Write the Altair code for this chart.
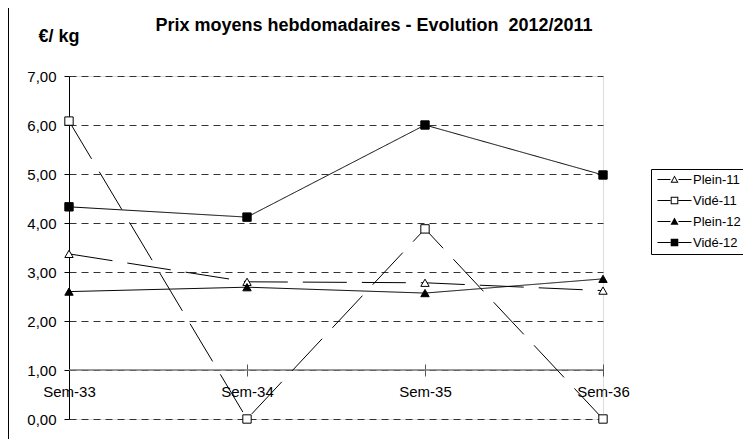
import altair as alt
import pandas as pd

weeks = ["Sem-33", "Sem-34", "Sem-35", "Sem-36"]
series = ["Plein-11", "Vidé-11", "Plein-12", "Vidé-12"]
plein_11 = [3.37, 2.80, 2.78, 2.62]
vide_11 = [6.08, 0.00, 3.88, 0.00]
plein_12 = [2.60, 2.69, 2.57, 2.86]
vide_12 = [4.33, 4.12, 6.00, 4.98]
y_ticks = [0, 1, 2, 3, 4, 5, 6, 7]

rows = []
for name, vals in zip(series, [plein_11, vide_11, plein_12, vide_12]):
    for w, v in zip(weeks, vals):
        rows.append({"week": w, "series": name, "value": v})
df = pd.DataFrame(rows)

FONT = "Liberation Sans"
x_enc = alt.X("week:N", sort=weeks, scale=alt.Scale(type="point", padding=0), title=None,
              axis=alt.Axis(orient="bottom", offset=-55, domain=False, tickSize=12,
                            tickColor="#555", labelAngle=0, labelPadding=8,
                            labelFontSize=15, labelFont=FONT, labelColor="black", grid=False))
y_enc = alt.Y("value:Q", scale=alt.Scale(domain=[0, 7], nice=False, zero=True), title="€/ kg",
              axis=alt.Axis(values=y_ticks, labelExpr="replace(format(datum.value, '.2f'), '.', ',')",
                            domainColor="black", tickColor="black", tickSize=5, labelPadding=8,
                            labelFontSize=15, labelFont=FONT, labelColor="black",
                            grid=True, gridDash=[7, 5], gridColor="#333", gridWidth=1,
                            titleAngle=0, titleX=-31, titleY=-40, titleAlign="left",
                            titleBaseline="middle", titleFontSize=18, titleFont=FONT,
                            titleFontWeight="bold", titleColor="black"))

dash_scale = alt.Scale(domain=series, range=[[44, 15], [44, 15], [1, 0], [1, 0]])
fill_scale = alt.Scale(domain=series, range=["white", "white", "black", "black"])
shape_scale = alt.Scale(domain=series, range=["triangle-up", "square", "triangle-up", "square"])

# legend glyphs: line sample + marker, drawn as filled outlines
seg = "M-4.25,-0.13H-1V0.13H-4.25Z M1,-0.13H4.25V0.13H1Z "
tri_open = seg + "M0,-1L1,0.8L-1,0.8Z M0,-0.55L-0.6,0.57L0.6,0.57Z"
tri_full = seg + "M0,-1L1,0.8L-1,0.8Z"
sq_open = seg + "M-0.95,-0.95H0.95V0.95H-0.95Z M-0.7,-0.7V0.7H0.7V-0.7Z"
sq_full = seg + "M-0.95,-0.95H0.95V0.95H-0.95Z"
legend_shape_scale = alt.Scale(domain=series, range=[tri_open, sq_open, tri_full, sq_full])
legend_fill_scale = alt.Scale(domain=series, range=["black", "black", "black", "black"])

base = alt.Chart(df)

frame = alt.Chart(pd.DataFrame({"v": [0]})).mark_rule(color="black", strokeWidth=1).encode(
    x=alt.value(-60.5), y=alt.value(-68), y2=alt.value(372)
)

axis_line = alt.Chart(pd.DataFrame({"v": [1]})).mark_rule(color="#777", strokeWidth=1.5).encode(
    y=alt.Y("v:Q", scale=alt.Scale(domain=[0, 7], nice=False))
)

lines = base.mark_line(color="black", strokeWidth=1).encode(
    x=x_enc, y=y_enc,
    strokeDash=alt.StrokeDash("series:N", scale=dash_scale, legend=None),
    detail="series:N",
)

points = base.mark_point(filled=True, stroke="black", strokeWidth=1, size=70, opacity=1).encode(
    x=x_enc, y=y_enc,
    shape=alt.Shape("series:N", scale=shape_scale, legend=None),
    fill=alt.Fill("series:N", scale=fill_scale, legend=None),
)

leg = dict(title=None, orient="none", legendX=582, legendY=93)

legend_layer = base.transform_filter("false").mark_point(
    filled=True, strokeWidth=0, size=64, opacity=1
).encode(
    x=x_enc, y=y_enc,
    shape=alt.Shape("series:N", scale=legend_shape_scale,
                    legend=alt.Legend(**leg, strokeColor="black", padding=4, labelFontSize=13,
                                      labelFont=FONT, labelColor="black", symbolSize=64,
                                      symbolOffset=13, labelOffset=12, rowPadding=6,
                                      symbolOpacity=1)),
    fill=alt.Fill("series:N", scale=legend_fill_scale, legend=alt.Legend(**leg)),
)

chart = alt.layer(frame, axis_line, lines, points, legend_layer).resolve_scale(
    shape="independent", fill="independent"
).properties(
    width=534, height=343,
    title=alt.TitleParams("Prix moyens hebdomadaires - Evolution\u00a0 2012/2011", font=FONT,
                          fontSize=18, fontWeight="bold", color="black", anchor="middle",
                          dx=38, offset=-27),
    autosize=alt.AutoSizeParams(type="none"),
    padding={"left": 61, "top": 68, "right": 140, "bottom": 20},
).configure_view(stroke=None).configure(background="white")

chart.save("out.html", embed_options={"renderer": "svg", "actions": False})
